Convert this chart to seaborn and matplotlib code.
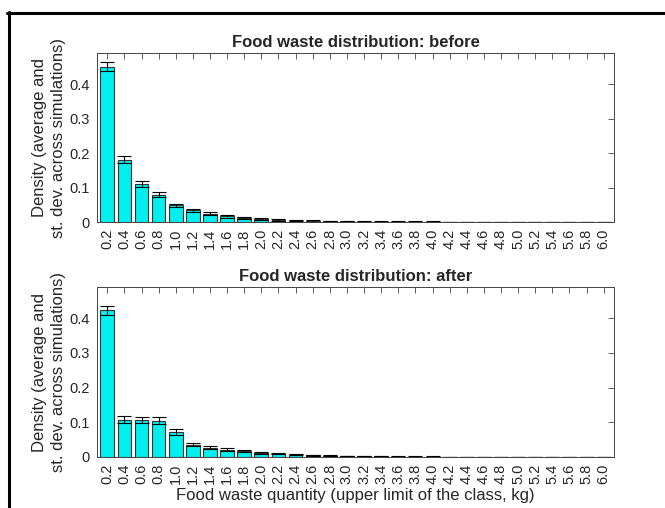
import numpy as np
import pandas as pd
import matplotlib
matplotlib.use("Agg")
import matplotlib.pyplot as plt
from matplotlib.lines import Line2D
import seaborn as sns

# Class upper limits (kg)
classes = ["0.2", "0.4", "0.6", "0.8", "1.0", "1.2", "1.4", "1.6", "1.8", "2.0",
           "2.2", "2.4", "2.6", "2.8", "3.0", "3.2", "3.4", "3.6", "3.8", "4.0",
           "4.2", "4.4", "4.6", "4.8", "5.0", "5.2", "5.4", "5.6", "5.8", "6.0"]

# Average density across simulations, and its standard deviation
before_mean = [0.450, 0.180, 0.111, 0.079, 0.048, 0.034, 0.024, 0.016, 0.011, 0.009,
               0.006, 0.004, 0.003, 0.002, 0.0015, 0.0012, 0.001, 0.0008, 0.0006, 0.0005,
               0.0003, 0, 0, 0, 0, 0, 0, 0, 0, 0]
before_sd = [0.013, 0.010, 0.009, 0.007, 0.005, 0.005, 0.004, 0.003, 0.003, 0.003,
             0.002, 0.002, 0.002, 0.001, 0.001, 0.001, 0.001, 0.001, 0.001, 0.001,
             0.001, 0, 0, 0, 0, 0, 0, 0, 0, 0]

after_mean = [0.423, 0.108, 0.106, 0.105, 0.072, 0.035, 0.027, 0.021, 0.017, 0.011,
              0.010, 0.007, 0.005, 0.004, 0.003, 0.002, 0.002, 0.001, 0.001, 0.0008,
              0, 0, 0, 0, 0, 0, 0, 0, 0, 0]
after_sd = [0.013, 0.010, 0.009, 0.010, 0.008, 0.004, 0.004, 0.004, 0.003, 0.002,
            0.002, 0.002, 0.002, 0.002, 0.001, 0.001, 0.001, 0.001, 0.001, 0.001,
            0, 0, 0, 0, 0, 0, 0, 0, 0, 0]

yticks = [0, 0.1, 0.2, 0.3, 0.4]
ytick_labels = ["0", "0.1", "0.2", "0.3", "0.4"]

sns.set_style("white")
plt.rcParams["font.family"] = ["Liberation Sans", "DejaVu Sans"]

fig = plt.figure(figsize=(6.65, 5.08), dpi=100)
ax_top = fig.add_axes([97 / 665, 1 - 222 / 508, 517 / 665, 169 / 508])
ax_bot = fig.add_axes([97 / 665, 1 - 457 / 508, 517 / 665, 170 / 508])

panels = [(ax_top, before_mean, before_sd, "Food waste distribution: before"),
          (ax_bot, after_mean, after_sd, "Food waste distribution: after")]

text_color = "#262626"

for ax, mean, sd, title in panels:
    df = pd.DataFrame({"cls": classes, "density": mean})
    sns.barplot(data=df, x="cls", y="density", ax=ax, color="#00f0f0",
                saturation=1, edgecolor="#333333", linewidth=0.8, width=0.8,
                errorbar=None)
    ax.errorbar(np.arange(len(classes)), mean, yerr=sd, fmt="none",
                ecolor="black", elinewidth=0.8, capsize=5, capthick=0.8)
    ax.set_xlim(-0.6, len(classes) - 0.4)
    ax.set_ylim(0, 0.49)
    ax.set_yticks(yticks)
    ax.set_yticklabels(ytick_labels)
    ax.tick_params(axis="x", labelrotation=90)
    ax.tick_params(direction="in", top=True, right=True, length=4, width=0.6,
                   color="#444444", labelsize=10.5, labelcolor=text_color, pad=5)
    for s in ax.spines.values():
        s.set_visible(True)
        s.set_color("#444444")
        s.set_linewidth(0.7)
    ax.set_title(title, fontsize=12, fontweight="bold", pad=4)
    ax.set_xlabel("")
    ax.set_ylabel("Density (average and\nst. dev. across simulations)",
                  fontsize=12, color=text_color, labelpad=3, linespacing=1.3)

ax_bot.set_xlabel("Food waste quantity (upper limit of the class, kg)",
                  fontsize=12, color=text_color, labelpad=3)

# Outer frame (top and left edges)
fig.add_artist(Line2D([7 / 665, 1], [1 - 13 / 508, 1 - 13 / 508],
                      color="black", linewidth=2.2, transform=fig.transFigure))
fig.add_artist(Line2D([9 / 665, 9 / 665], [1 - 12 / 508, 0],
                      color="black", linewidth=2.2, transform=fig.transFigure))

fig.savefig("out.png", dpi=100)
